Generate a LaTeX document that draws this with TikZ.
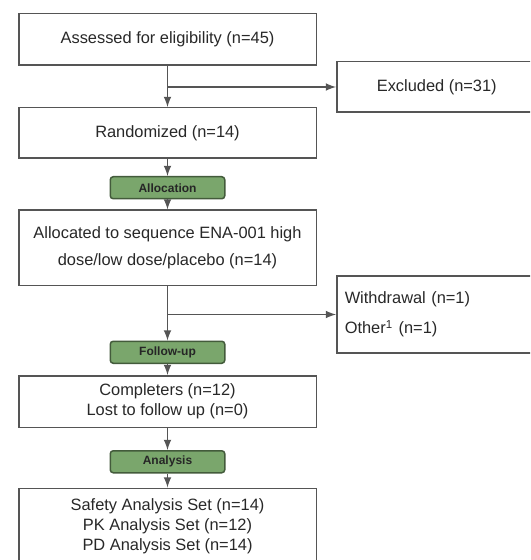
\documentclass[tikz,border=0pt]{standalone}
\usepackage{fontspec}
\setmainfont{Liberation Sans}
\usetikzlibrary{arrows, positioning}
\usepackage{xcolor}
\definecolor{stagegreen}{RGB}{122,166,108}
\definecolor{linegray}{RGB}{85,85,85}
\definecolor{textgray}{RGB}{40,40,40}

\begin{document}
\begin{tikzpicture}[
        node distance=10pt,
        box/.style={rectangle, minimum width=148.75pt, text centered, draw=linegray, line width=0.75pt, fill=white, align=center, text=textgray, font=\fontsize{8.2}{10}\selectfont},
        sidebox/.style={rectangle, minimum width=100pt, draw=linegray, line width=0.75pt, fill=white, text=textgray, font=\fontsize{8.2}{10}\selectfont},
        stage/.style={rectangle, rounded corners=1.5pt, minimum width=57.25pt, minimum height=11pt, inner sep=0pt, draw=stagegreen!55!black, line width=0.75pt, fill=stagegreen, text=black!85, font=\bfseries\fontsize{6}{7}\selectfont},
        arrow/.style={->, >=latex, line width=0.75pt, draw=linegray}
    ]
        \path [use as bounding box, clip] (0,0) rectangle (265pt,-280pt);

        % Enrollment
        \node (assessed) [box, minimum height=25.75pt] at (83.75pt,-19.75pt) {Assessed for eligibility (n=45)};
        \node (excluded) [sidebox, minimum height=25.25pt, right=9.5pt of assessed, yshift=-23.75pt] {Excluded (n=31)};
        \node (randomized) [box, minimum height=25.25pt, below=20.5pt of assessed] {Randomized (n=14)};

        % Allocation
        \node (allocation) [stage, below=8.5pt of randomized] {Allocation};
        \node (allocated) [box, minimum height=37.75pt, below=5pt of allocation] {Allocated to sequence ENA-001 high\\[3.3pt] dose/low dose/placebo (n=14)};
        \node (withdrawn) [sidebox, minimum height=38.25pt, inner sep=4pt, text width=92pt, align=left, right=9.5pt of allocated, yshift=-33.25pt] {Withdrawal (n=1)\\[5pt] Other\textsuperscript{1} (n=1)};

        % Follow-up
        \node (followup) [stage, below=27pt of allocated] {Follow-up};
        \node (completers) [box, minimum height=25.75pt, below=5.5pt of followup] {Completers (n=12)\\ Lost to follow up (n=0)};

        % Analysis
        \node (analysis) [stage, below=11pt of completers] {Analysis};
        \node (sets) [box, minimum height=38.25pt, below=7pt of analysis] {Safety Analysis Set (n=14)\\ PK Analysis Set (n=12)\\ PD Analysis Set (n=14)};

        % Arrows down the main column
        \draw [arrow] (assessed.south) -- (randomized.north);
        \draw [arrow] (randomized.south) -- (allocation.north);
        \draw [arrow] (allocation.south) -- (allocated.north);
        \draw [arrow] (allocated.south) -- (followup.north);
        \draw [arrow] (followup.south) -- (completers.north);
        \draw [arrow] (completers.south) -- (analysis.north);
        \draw [arrow] (analysis.south) -- (sets.north);

        % Arrows to the side boxes
        \draw [arrow] (assessed.south |- excluded.west) -- (excluded.west);
        \draw [arrow] (allocated.south |- withdrawn.west) -- (withdrawn.west);

    \end{tikzpicture}
\end{document}
